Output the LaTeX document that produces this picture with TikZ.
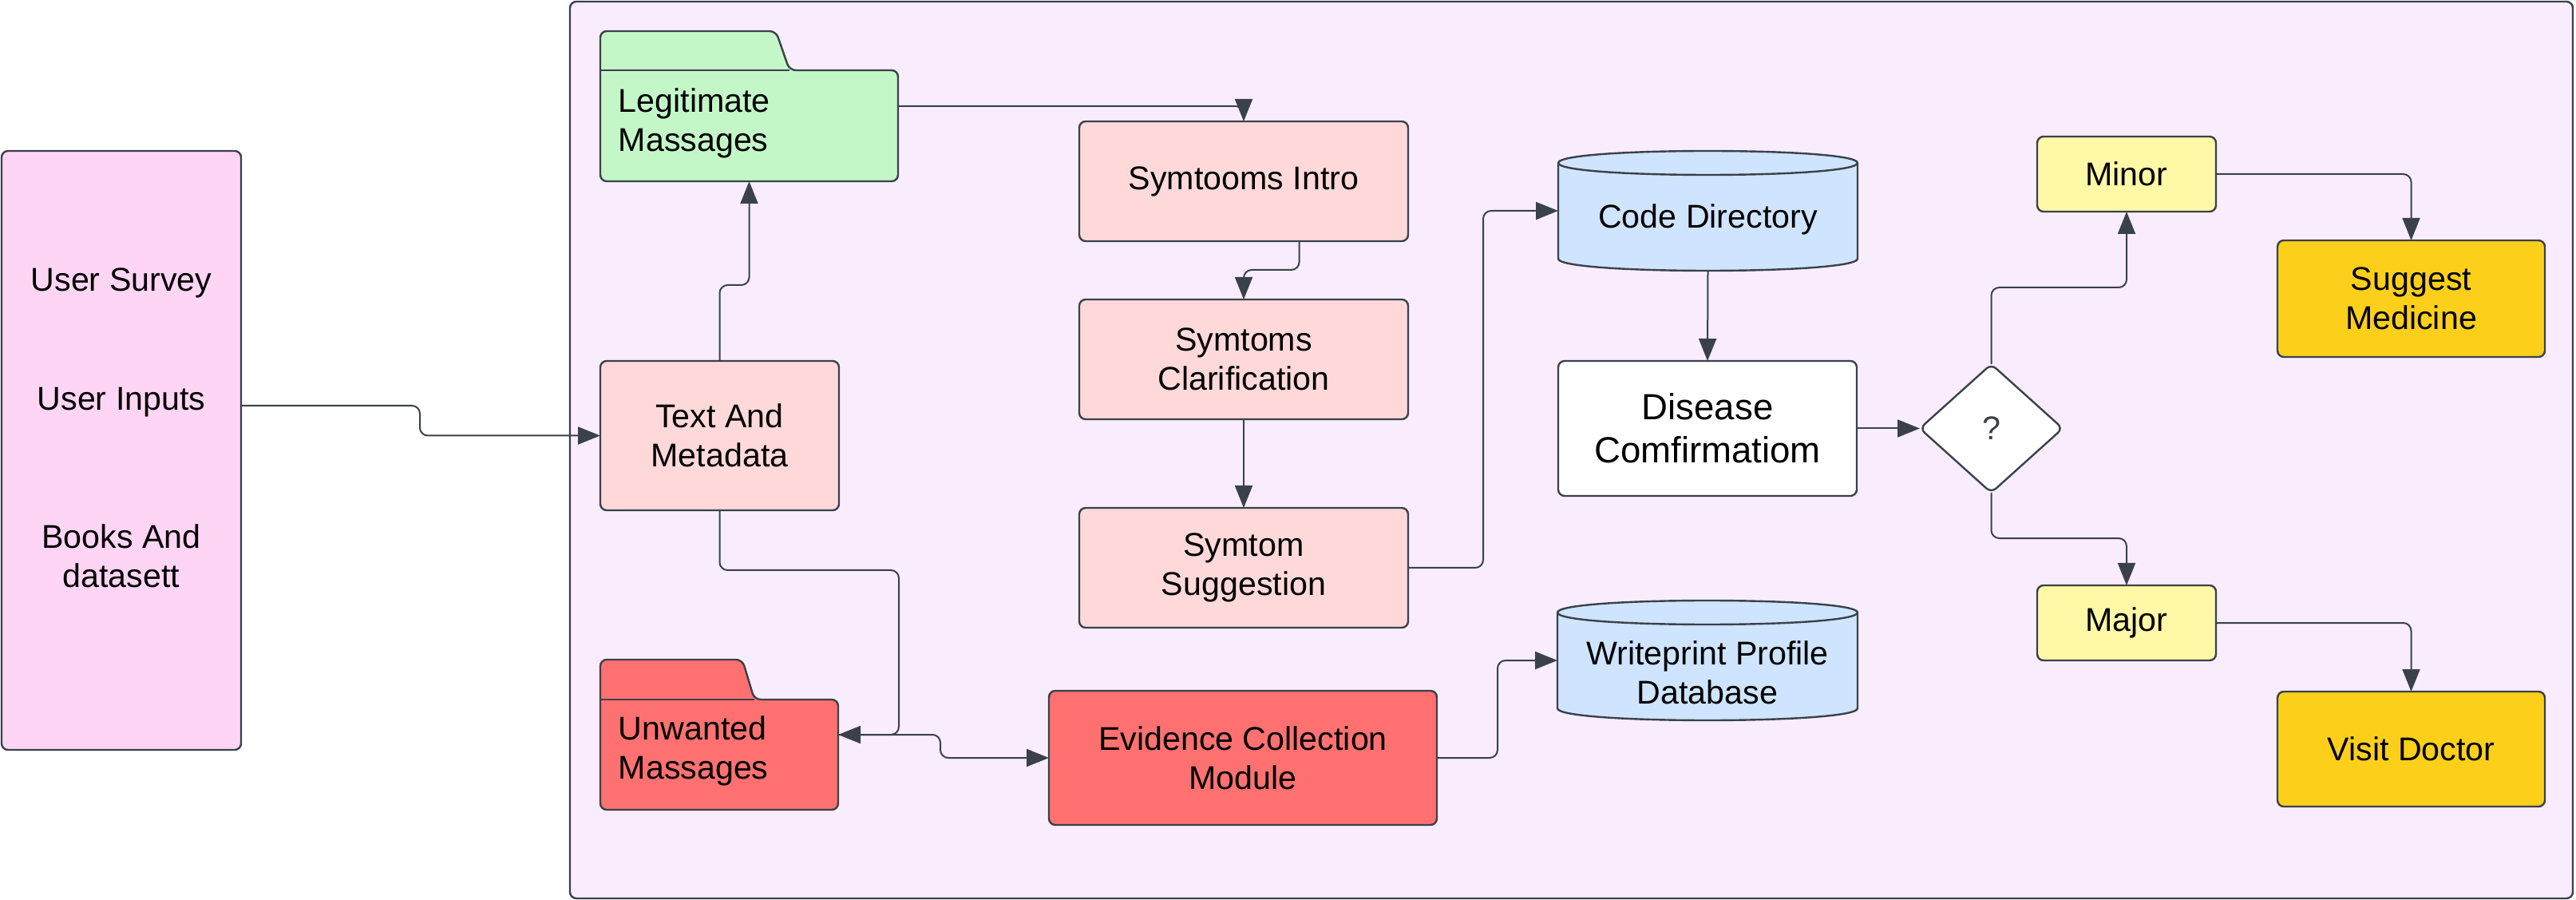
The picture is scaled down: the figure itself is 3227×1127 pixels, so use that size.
\documentclass[tikz,border=0pt]{standalone}
\usepackage{fontspec}
\setmainfont{Liberation Sans}
\usetikzlibrary{arrows.meta,shapes.geometric,calc}
\definecolor{ln}{HTML}{3A414A}
\definecolor{contc}{HTML}{F9EDFD}
\definecolor{srcc}{HTML}{FFD5F5}
\definecolor{greenc}{HTML}{C3F7C8}
\definecolor{pinkc}{HTML}{FFD9D9}
\definecolor{redc}{HTML}{FF7171}
\definecolor{bluec}{HTML}{CFE4FF}
\definecolor{yelc}{HTML}{FFF8A6}
\definecolor{goldc}{HTML}{FCD01A}
\newcommand{\cylshape}[5]{%
  \filldraw[shapeln, rounded corners=0pt, fill=#5] (#1,#2+15) -- (#1,#4-15) .. controls (#1,#4+5) and (#3,#4+5) .. (#3,#4-15) -- (#3,#2+15) .. controls (#3,#2-5) and (#1,#2-5) .. cycle;
  \draw[shapeln, rounded corners=0pt] (#1,#2+15) .. controls (#1,#2+35) and (#3,#2+35) .. (#3,#2+15);}
\newcommand{\boxat}[7]{%
  \node[#6, minimum width={(#4-#2)*0.25bp}, minimum height={(#5-#3)*0.25bp}] (#1) at ({(#2+#4)/2},{(#3+#5)/2}) {#7};}
\begin{document}
\begin{tikzpicture}[x=0.25bp,y=-0.25bp,
  font=\fontsize{10.3bp}{12.3bp}\selectfont,
  box/.style={draw=ln,line width=0.6bp,rounded corners=2bp,inner sep=0pt,outer sep=0pt,align=center},
  ghost/.style={inner sep=0pt,outer sep=0pt},
  shapeln/.style={draw=ln,line width=0.6bp,rounded corners=2bp},
  txt/.style={inner sep=0pt,align=center},
  conn/.style={draw=ln,line width=0.5bp,rounded corners=2.5bp,-{Triangle[length=7bp,width=5.5bp]}}]
\useasboundingbox (0,0) rectangle (3227,1127);
% container
\boxat{sys}{714}{2}{3223}{1125}{box, fill=contc}{}
% source box
\boxat{src}{2}{189}{302}{939}{box, fill=srcc}{}
\node[txt] (t1) at (152,354) {User Survey};
\node[txt] (t2) at (152,504) {User Inputs};
\node[txt] (t3) at (152,696) {Books And\\datasett};
% legit folder
\draw[shapeln, fill=greenc] (752,88) -- (752,39) -- (972,39) -- (989,88) -- (1125,88) -- (1125,227) -- (752,227) -- cycle;
\draw[shapeln] (752,88) -- (989,88);
\boxat{legit}{752}{39}{1125}{227}{ghost}{}
\node[anchor=west, align=left, inner sep=0pt] (legitt) at (774,154) {Legitimate\\Massages};
% unwanted folder
\draw[shapeln, fill=redc] (752,876) -- (752,826) -- (930,826) -- (945,876) -- (1050,876) -- (1050,1014) -- (752,1014) -- cycle;
\draw[shapeln] (752,876) -- (945,876);
\boxat{unw}{752}{826}{1050}{1014}{ghost}{}
\node[anchor=west, align=left, inner sep=0pt] (unwt) at (774,940) {Unwanted\\Massages};
% boxes
\boxat{tam}{752}{452}{1051}{639}{box, fill=pinkc}{Text And\\Metadata}
\boxat{intro}{1352}{152}{1764}{302}{box, fill=pinkc}{Symtooms Intro}
\boxat{clar}{1352}{375}{1764}{525}{box, fill=pinkc}{Symtoms\\Clarification}
\boxat{sugg}{1352}{636}{1764}{786}{box, fill=pinkc}{Symtom\\Suggestion}
\boxat{evid}{1314}{865}{1800}{1033}{box, fill=redc}{Evidence Collection\\Module}
\boxat{dis}{1952}{452}{2326}{621}{box, fill=white, font=\fontsize{11.4bp}{13.5bp}\selectfont}{Disease\\Comfirmatiom}
\boxat{minor}{2552}{171}{2776}{265}{box, fill=yelc}{Minor}
\boxat{major}{2552}{733}{2776}{827}{box, fill=yelc}{Major}
\boxat{med}{2853}{301}{3188}{447}{box, fill=goldc}{Suggest\\Medicine}
\boxat{visit}{2853}{866}{3188}{1010}{box, fill=goldc}{Visit Doctor}
% cylinders
\cylshape{1952}{189}{2327}{339}{bluec}
\boxat{code}{1952}{189}{2327}{339}{ghost}{}
\node[txt] (codet) at (2139.5,275) {Code Directory};
\cylshape{1951}{752}{2327}{902}{bluec}
\boxat{wp}{1951}{752}{2327}{902}{ghost}{}
\node[txt] (wpt) at (2139,842) {Writeprint Profile\\Database};
% decision
\node[diamond, draw=ln, line width=0.6bp, fill=white, rounded corners=2bp, minimum width=44.75bp, minimum height=40.25bp, aspect=1.11, inner sep=0pt, outer sep=0pt, text=ln] (dia) at (2494.5,536.5) {?};
% connectors
\draw[conn] ([yshift=14bp]src.east) -- ++(224,0) |- (tam.west);
\draw[conn] (tam.north) -- ++(0,-95) -| (legit.south);
\draw[conn] (legit.east) -| (intro.north);
\draw[conn] ([xshift=17.4bp]intro.south) -- ++(0,36) -| (clar.north);
\draw[conn] (clar.south) -- (sugg.north);
\draw[conn] (sugg.east) -- ++(94,0) |- (code.west);
\draw[conn] (code.south) -- (dis.north);
\draw[conn] (dis.east) -- (dia.west);
\draw[conn] (dia.north) -- ++(0,-96) -| (minor.south);
\draw[conn] (minor.east) -| (med.north);
\draw[conn] (dia.south) -- ++(0,57) -| (major.north);
\draw[conn] (major.east) -| (visit.north);
\draw[conn] (tam.south) -- ++(0,75) -- ++(224.5,0) |- (unw.east);
\draw[conn] (unw.east) -- ++(128,0) |- (evid.west);
\draw[conn] (evid.east) -- ++(76,0) |- (wp.west);
\end{tikzpicture}
\end{document}
